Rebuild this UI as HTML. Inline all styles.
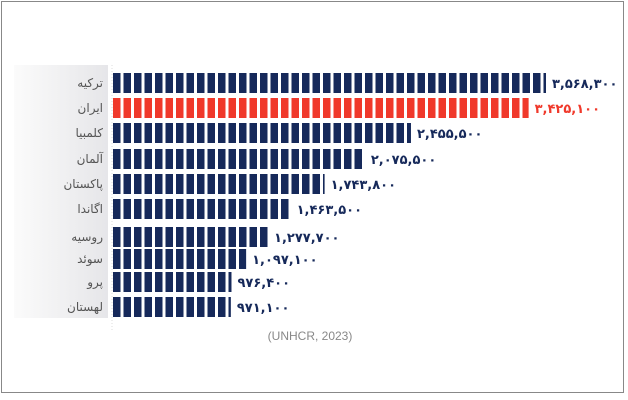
<!DOCTYPE html>
<html><head><meta charset="utf-8"><style>
html,body{margin:0;padding:0;background:#fff;}
svg{display:block;font-family:"DejaVu Sans","Liberation Sans",sans-serif;}
</style></head><body>
<svg id="chart" width="628" height="400" viewBox="0 0 628 400">
<defs><linearGradient id="g" x1="0" x2="1"><stop offset="0" stop-color="#fbfbfb"/><stop offset="1" stop-color="#e6e6e9"/></linearGradient></defs>
<rect x="1.5" y="1.5" width="622" height="391" fill="#fff" stroke="#888"/>
<rect x="14" y="65" width="94" height="253" fill="url(#g)"/>
<line x1="112" y1="65" x2="112" y2="330" stroke="#ddd" stroke-dasharray="1,2"/>
<g id="bars"></g>
<text x="310" y="340" text-anchor="middle" font-size="12" fill="#888" font-family="Liberation Sans, sans-serif">(UNHCR, 2023)</text>
</svg>
<script>
const categories = ["ترکیه","ایران","کلمبیا","آلمان","پاکستان","اگاندا","روسیه","سوئد","پرو","لهستان"];
const values = [3568300,3425100,2455500,2075500,1743800,1463500,1277700,1097100,976400,971100];
const highlight = [false,true,false,false,false,false,false,false,false,false];
const rowTops = [73,98,123,149,174,199,227,249,272,297];
const x0 = 113, maxPx = 433, maxVal = 3568300;
function xScale(v){ return v / maxVal * maxPx; }
function fa(n){ return n.toLocaleString('en-US').replace(/\d/g,d=>'۰۱۲۳۴۵۶۷۸۹'[d]); }
const g = document.getElementById('bars');
const NS = "http://www.w3.org/2000/svg";
categories.forEach((c,i)=>{
  const y = rowTops[i], h = 20, len = xScale(values[i]);
  const col = highlight[i] ? "#f0392b" : "#16295a";
  const grp = document.createElementNS(NS,'g');
  
  
  for(let s=0; s<len-1; s+=10.5){
    const r = document.createElementNS(NS,'rect');
    r.setAttribute('x', x0+s); r.setAttribute('y', y);
    r.setAttribute('width', Math.min(7.5, len-s)); r.setAttribute('height', h);
    r.setAttribute('fill', col);
    
    
    grp.appendChild(r);
  }
  const lab = document.createElementNS(NS,'text');
  lab.setAttribute('x', 103); lab.setAttribute('y', y+14);
  lab.setAttribute('text-anchor','end'); lab.setAttribute('font-size','12'); lab.setAttribute('fill','#555');
  lab.textContent = c;
  
  
  grp.appendChild(lab);
  const vl = document.createElementNS(NS,'text');
  vl.setAttribute('x', x0+len+6); vl.setAttribute('y', y+15);
  vl.setAttribute('font-size','13'); vl.setAttribute('font-weight','bold'); vl.setAttribute('fill', highlight[i] ? "#f0392b" : "#16295a");
  vl.textContent = fa(values[i]);
  
  
  grp.appendChild(vl);
  g.appendChild(grp);
});
</script>
</body></html>
